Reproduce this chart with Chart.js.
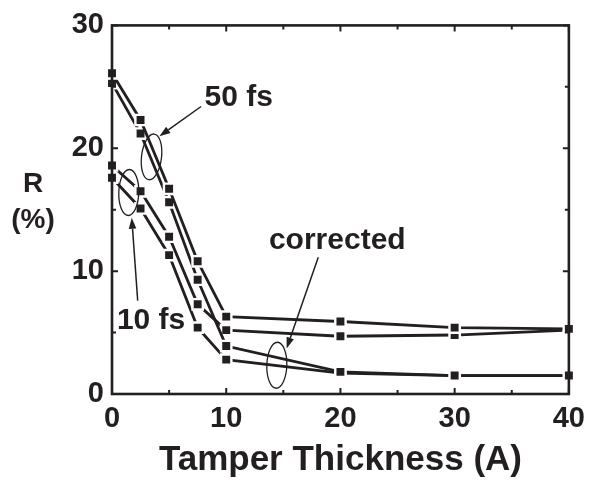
<!DOCTYPE html>
<html>
<head>
<meta charset="utf-8">
<script src="https://cdn.jsdelivr.net/npm/chart.js@4/dist/chart.umd.min.js"></script>
<style>
	html, body { margin: 0; padding: 0; background: #fff; }
	#wrap { width: 593px; height: 483px; }
</style>
</head>
<body>
<div id="wrap"><canvas id="chart-tamper"></canvas></div>
<script>
// values
var thickness = [0, 2.5, 5, 7.5, 10, 20, 30, 40];
var r50fs = [26.1, 22.3, 16.7, 10.8, 6.3, 5.9, 5.4, 5.3];
var r50fsCorrected = [25.3, 21.2, 15.6, 9.3, 3.9, 1.8, 1.5, 1.5];
var r10fs = [18.6, 16.5, 12.8, 7.3, 5.2, 4.7, 4.8, 5.2];
var r10fsCorrected = [17.6, 15.1, 11.3, 5.4, 2.8, 1.7, 1.5, 1.5];
var xTicks = [0, 10, 20, 30, 40];
var yTicks = [0, 10, 20, 30];

// labels with ellipse + arrow, in data units
var noteTexts = ["50 fs", "10 fs", "corrected"];
var noteTextAt = [[8.1, 23.4], [0.43, 5.3], [13.74, 11.77]];
var noteEllipseAt = [[3.46, 19.3], [1.47, 16.4], [14.43, 2.34]];
var noteArrowFrom = [[7.8, 23.4], [2.25, 7.6], [18.06, 11.13]];
var noteArrowTo = [[4.15, 20.97], [1.73, 14.35], [15.29, 3.71]];

var ink = "#231f20";
var fontFamily = "'Liberation Sans', Arial, sans-serif";

function MakeSeries(values)
{
	return {
		data: thickness.map(function(x, i) { return {x: x, y: values[i]}; }),
		borderColor: ink,
		borderWidth: 2.8,
		pointStyle: "rect",
		pointRadius: 7.3,
		pointBackgroundColor: ink,
		pointBorderColor: "#fff",
		pointBorderWidth: 2.4,
		tension: 0,
		clip: false
	};
}

function DrawArrow(ctx, x1, y1, x2, y2)
{
	var a = Math.atan2(y2 - y1, x2 - x1);
	var len = 11, half = 3.8;
	var bx = x2 - len * Math.cos(a), by = y2 - len * Math.sin(a);

	ctx.beginPath();
	ctx.moveTo(x1, y1);
	ctx.lineTo(bx, by);
	ctx.stroke();

	ctx.beginPath();
	ctx.moveTo(x2, y2);
	ctx.lineTo(bx + half * Math.sin(a), by - half * Math.cos(a));
	ctx.lineTo(bx - half * Math.sin(a), by + half * Math.cos(a));
	ctx.closePath();
	ctx.fill();
}

var framePlugin = {
	id: "frame",
	afterDraw: function(chart)
	{
		var ctx = chart.ctx;
		var area = chart.chartArea;
		var xs = chart.scales.x, ys = chart.scales.y;

		ctx.save();
		ctx.strokeStyle = ink;
		ctx.fillStyle = ink;

		// box round the plot
		ctx.lineWidth = 2.6;
		ctx.strokeRect(area.left, area.top, area.right - area.left, area.bottom - area.top);

		// inward ticks on all four sides, minor ones halfway
		ctx.lineWidth = 2;
		ctx.beginPath();
		for (var v = 0; v <= 40; v += 5)
		{
			var px = xs.getPixelForValue(v);
			var tl = (v % 10 === 0) ? 6 : 4;
			ctx.moveTo(px, area.bottom); ctx.lineTo(px, area.bottom - tl);
			ctx.moveTo(px, area.top); ctx.lineTo(px, area.top + tl);
		}
		for (var w = 0; w <= 30; w += 5)
		{
			var py = ys.getPixelForValue(w);
			var tl2 = (w % 10 === 0) ? 6 : 4;
			ctx.moveTo(area.left, py); ctx.lineTo(area.left + tl2, py);
			ctx.moveTo(area.right, py); ctx.lineTo(area.right - tl2, py);
		}
		ctx.stroke();

		// y axis title, written upright in two lines
		ctx.font = "bold 28px " + fontFamily;
		ctx.textAlign = "center";
		ctx.textBaseline = "alphabetic";
		ctx.fillText("R", area.left - 79, 192);
		ctx.fillText("(%)", area.left - 79, 228);

		// notes
		ctx.font = "bold 30px " + fontFamily;
		ctx.textAlign = "left";
		for (var i = 0; i < noteTexts.length; i++)
		{
			ctx.fillText(noteTexts[i], xs.getPixelForValue(noteTextAt[i][0]), ys.getPixelForValue(noteTextAt[i][1]));

			ctx.lineWidth = 1.3;
			ctx.beginPath();
			ctx.ellipse(xs.getPixelForValue(noteEllipseAt[i][0]), ys.getPixelForValue(noteEllipseAt[i][1]), 10, 23, i === 0 ? 0.12 : 0.03, 0, 2 * Math.PI);
			ctx.stroke();

			ctx.lineWidth = 1.5;
			DrawArrow(ctx,
				xs.getPixelForValue(noteArrowFrom[i][0]), ys.getPixelForValue(noteArrowFrom[i][1]),
				xs.getPixelForValue(noteArrowTo[i][0]), ys.getPixelForValue(noteArrowTo[i][1]));
		}
		ctx.restore();
	}
};

new Chart("chart-tamper", {
	type: "line",
	data: {
		datasets: [
			MakeSeries(r50fs),
			MakeSeries(r50fsCorrected),
			MakeSeries(r10fs),
			MakeSeries(r10fsCorrected)
		]
	},
	options: {
		responsive: true,
		maintainAspectRatio: false,
		animation: false,
		layout: { padding: { top: 22, right: 18, left: 0, bottom: 0 } },
		plugins: { legend: { display: false }, tooltip: { enabled: false } },
		scales: {
			x: {
				type: "linear",
				min: 0,
				max: 40,
				afterBuildTicks: function(scale) { scale.ticks = xTicks.map(function(v) { return {value: v}; }); },
				afterFit: function(scale) { scale.height = 89; },
				grid: { display: false, drawTicks: false },
				border: { display: false },
				ticks: { color: ink, padding: 8, maxRotation: 0, font: { family: fontFamily, size: 29, weight: "bold" } },
				title: {
					display: true,
					text: "Tamper Thickness (A)",
					color: ink,
					padding: { top: 0, bottom: 2 },
					font: { family: fontFamily, size: 35, weight: "bold" }
				}
			},
			y: {
				type: "linear",
				min: 0,
				max: 30,
				afterBuildTicks: function(scale) { scale.ticks = yTicks.map(function(v) { return {value: v}; }); },
				afterFit: function(scale) { scale.width = 112; },
				grid: { display: false, drawTicks: false },
				border: { display: false },
				ticks: { color: ink, padding: 8, font: { family: fontFamily, size: 29, weight: "bold" } }
			}
		}
	},
	plugins: [framePlugin]
});
</script>
</body>
</html>
